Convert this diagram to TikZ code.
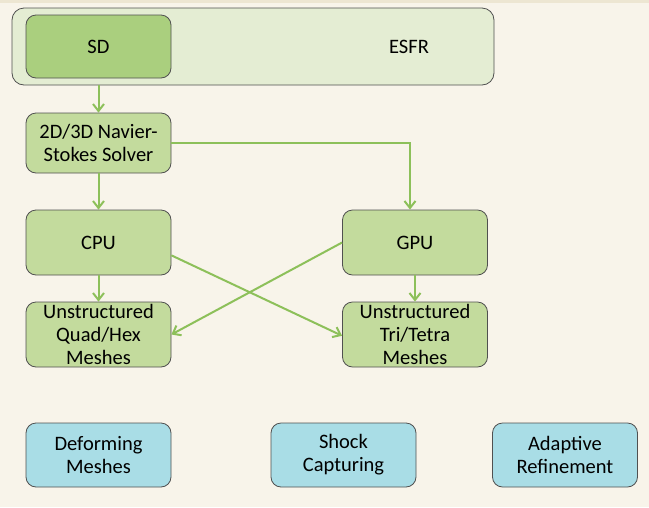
\documentclass[tikz,border=0pt]{standalone}
\usepackage{fontspec}
\setmainfont{Carlito}
\usetikzlibrary{arrows.meta}
\definecolor{bgc}{HTML}{F8F4EA}
\definecolor{topc}{HTML}{EDE6D2}
\definecolor{esfrc}{HTML}{E4EDD3}
\definecolor{sdc}{HTML}{AACF7E}
\definecolor{boxc}{HTML}{C3DB9D}
\definecolor{bluec}{HTML}{A9DDE6}
\definecolor{linec}{HTML}{8DC05A}
\definecolor{edgec}{HTML}{505050}
\tikzset{
  txt/.style={font=\fontsize{20.5}{23}\selectfont},
  gbox/.style={draw=edgec, line width=0.8pt, rounded corners=10pt, fill=boxc, minimum width=145pt, minimum height=64pt, align=center, txt, inner sep=0pt},
  bbox/.style={gbox, fill=bluec},
  arr/.style={draw=linec, line width=2pt, -{Straight Barb[length=7pt,width=11pt]}}
}
\begin{document}
\begin{tikzpicture}[x=1pt,y=-1pt]
\fill[bgc] (0,0) rectangle (649,507);
\fill[topc] (0,0) rectangle (649,3);
\useasboundingbox (0,0) rectangle (649,507);
\node[draw=edgec, line width=0.8pt, rounded corners=12pt, fill=esfrc, minimum width=482pt, minimum height=77pt, inner sep=0pt] (esfr) at (253,46.5) {};
\node[txt] (esfrlbl) at (409,46.5) {ESFR};
\node[gbox, fill=sdc, minimum height=63pt] (sd) at (98.5,46.5) {SD};
\node[gbox, minimum height=60pt] (ns) at (98.5,143) {2D/3D Navier-\\Stokes Solver};
\node[gbox, minimum height=65pt] (cpu) at (98.5,242.5) {CPU};
\node[gbox, minimum height=65pt] (gpu) at (415,242.5) {GPU};
\node[gbox, minimum height=65pt] (quad) at (98.5,334.5) {Unstructured\\Quad/Hex\\Meshes};
\node[gbox, minimum height=65pt] (tri) at (415,334.5) {Unstructured\\Tri/Tetra\\Meshes};
\node[bbox] (def) at (98.5,455) {Deforming\\Meshes};
\node[bbox] (shock) at (343.5,455) {Shock\\Capturing};
\node[bbox] (adapt) at (565,455) {Adaptive\\Refinement};
\draw[arr] (esfr.south -| sd.south) -- (ns.north);
\draw[arr] (ns.east) -| ([xshift=-5pt]gpu.north);
\draw[arr] (ns.south) -- (cpu.north);
\draw[arr] (cpu.south) -- (quad.north);
\draw[arr] (gpu.south) -- (tri.north);
\draw[arr] (cpu.-10) -- (tri.181);
\draw[arr] (gpu.west) -- (quad.east);
\end{tikzpicture}
\end{document}
